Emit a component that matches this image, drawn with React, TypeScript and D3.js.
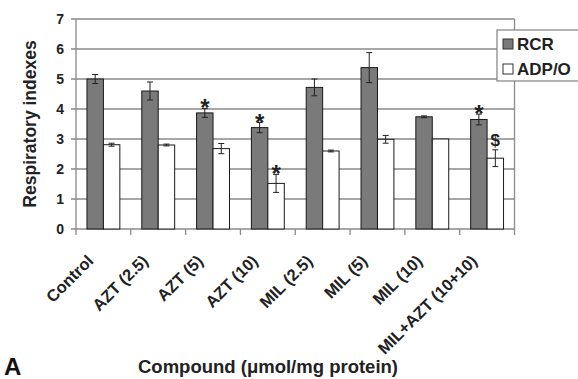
import { useEffect, useRef } from 'react';
import * as React from 'react';
import * as d3 from 'd3';

const categories = ['Control', 'AZT (2.5)', 'AZT (5)', 'AZT (10)', 'MIL (2.5)', 'MIL (5)', 'MIL (10)', 'MIL+AZT (10+10)'];
const series = ['RCR', 'ADP/O'];
const rcr = [5.0, 4.6, 3.87, 3.38, 4.72, 5.38, 3.74, 3.65];
const rcrErr = [0.15, 0.3, 0.15, 0.17, 0.28, 0.5, 0.03, 0.18];
const adpo = [2.81, 2.8, 2.68, 1.52, 2.6, 2.99, 3.0, 2.36];
const adpoErr = [0.05, 0.03, 0.17, 0.3, 0.03, 0.13, 0, 0.28];
// significance marks: [category index, series index, symbol]
const marks: [number, number, string][] = [[2, 0, '*'], [3, 0, '*'], [3, 1, '*'], [7, 0, '*'], [7, 1, '$']];
const yTicks = [0, 1, 2, 3, 4, 5, 6, 7];

const FONT = '"Liberation Sans", Arial, sans-serif';

const App: React.FC = () => {
    const ref = useRef<SVGSVGElement>(null);

    useEffect(() => {
        const svg = d3.select(ref.current);
        svg.selectAll('*').remove();

        const left = 76, right = 514.5, top = 19, bottom = 229;

        const x = d3.scaleBand<string>().domain(categories).range([left, right])
            .paddingInner(0.4).paddingOuter(0.2);
        const xs = d3.scaleBand<string>().domain(series).range([0, x.bandwidth()]);
        const y = d3.scaleLinear().domain([0, 7]).range([bottom, top]);

        const values = [rcr, adpo];
        const errs = [rcrErr, adpoErr];
        const fills = ['#7a7a7a', '#ffffff'];

        // Gridlines
        svg.append('g')
            .selectAll('line')
            .data(yTicks)
            .enter()
            .append('line')
            .attr('x1', left - 5)
            .attr('x2', right)
            .attr('y1', d => y(d))
            .attr('y2', d => y(d))
            .attr('stroke', '#8a8a8a')
            .attr('stroke-width', 1.3);

        // plot frame (left, right)
        svg.append('line').attr('x1', left).attr('x2', left).attr('y1', top).attr('y2', bottom + 1)
            .attr('stroke', '#8a8a8a').attr('stroke-width', 1.3);
        svg.append('line').attr('x1', right).attr('x2', right).attr('y1', top).attr('y2', bottom + 6)
            .attr('stroke', '#8a8a8a').attr('stroke-width', 1.3);

        // x tick marks at category boundaries
        const bounds = categories.map((_c, i) => left + i * x.step());
        svg.append('g')
            .selectAll('line')
            .data(bounds)
            .enter()
            .append('line')
            .attr('x1', d => d)
            .attr('x2', d => d)
            .attr('y1', bottom)
            .attr('y2', bottom + 6)
            .attr('stroke', '#8a8a8a')
            .attr('stroke-width', 1.3);

        // y tick labels
        svg.append('g')
            .selectAll('text')
            .data(yTicks)
            .enter()
            .append('text')
            .text(d => d.toString())
            .attr('x', 64)
            .attr('y', d => y(d) + 5)
            .attr('text-anchor', 'end')
            .attr('font-family', FONT)
            .attr('font-weight', 'bold')
            .attr('font-size', '14px')
            .attr('fill', '#222');

        // bars
        series.forEach((s, si) => {
            const g = svg.append('g');
            g.selectAll('rect')
                .data(values[si])
                .enter()
                .append('rect')
                .attr('x', (_d, i) => x(categories[i])! + xs(s)!)
                .attr('y', d => y(d))
                .attr('width', xs.bandwidth())
                .attr('height', d => y(0) - y(d))
                .attr('fill', fills[si])
                .attr('stroke', '#1a1a1a')
                .attr('stroke-width', 1);

            // error bars
            const eg = svg.append('g');
            values[si].forEach((v, i) => {
                const e = errs[si][i];
                if (!e) return;
                const cx = x(categories[i])! + xs(s)! + xs.bandwidth() / 2;
                eg.append('line').attr('x1', cx).attr('x2', cx).attr('y1', y(v + e)).attr('y2', y(v - e))
                    .attr('stroke', '#222').attr('stroke-width', 1);
                [v + e, v - e].forEach(t => {
                    eg.append('line').attr('x1', cx - 3).attr('x2', cx + 3).attr('y1', y(t)).attr('y2', y(t))
                        .attr('stroke', '#222').attr('stroke-width', 1);
                });
            });
        });

        // significance marks
        svg.append('g')
            .selectAll('text')
            .data(marks)
            .enter()
            .append('text')
            .text(d => d[2])
            .attr('x', d => x(categories[d[0]])! + xs(series[d[1]])! + xs.bandwidth() / 2)
            .attr('y', d => {
                const errTop = y(values[d[1]][d[0]] + errs[d[1]][d[0]]);
                return d[2] === '*' ? errTop + 8 : errTop - 4;
            })
            .attr('text-anchor', 'middle')
            .attr('font-family', FONT)
            .attr('font-weight', 'bold')
            .attr('font-size', d => (d[2] === '*' ? '24px' : '17px'))
            .attr('fill', '#222');

        // x labels
        svg.append('g')
            .selectAll('text')
            .data(categories)
            .enter()
            .append('text')
            .text(d => d)
            .attr('transform', d => `translate(${x(d)! + x.bandwidth() / 2 - 9},${bottom + 33}) rotate(-45)`)
            .attr('text-anchor', 'end')
            .attr('font-family', FONT)
            .attr('font-weight', 'bold')
            .attr('font-size', '16.5px')
            .attr('fill', '#222');

        // axis titles
        svg.append('text')
            .text('Respiratory indexes')
            .attr('transform', `translate(36,${(top + bottom) / 2}) rotate(-90)`)
            .attr('text-anchor', 'middle')
            .attr('font-family', FONT)
            .attr('font-weight', 'bold')
            .attr('font-size', '17.5px')
            .attr('fill', '#222');

        svg.append('text')
            .text('Compound (\u03bcmol/mg protein)')
            .attr('x', 268)
            .attr('y', 373)
            .attr('text-anchor', 'middle')
            .attr('font-family', FONT)
            .attr('font-weight', 'bold')
            .attr('font-size', '18.5px')
            .attr('fill', '#222');

        svg.append('text')
            .text('A')
            .attr('x', 4)
            .attr('y', 375)
            .attr('font-family', FONT)
            .attr('font-weight', 'bold')
            .attr('font-size', '24px')
            .attr('fill', '#111');

        // legend
        const lg = svg.append('g').attr('transform', 'translate(497,30)');
        lg.append('rect').attr('width', 82).attr('height', 51).attr('fill', '#fff')
            .attr('stroke', '#8a8a8a').attr('stroke-width', 1.3);
        series.forEach((s, si) => {
            lg.append('rect')
                .attr('x', 6)
                .attr('y', 9 + si * 25)
                .attr('width', 10)
                .attr('height', 10)
                .attr('fill', fills[si])
                .attr('stroke', '#333')
                .attr('stroke-width', 1);
            lg.append('text')
                .text(s)
                .attr('x', 20)
                .attr('y', 20 + si * 25)
                .attr('font-family', FONT)
                .attr('font-weight', 'bold')
                .attr('font-size', '17px')
                .attr('fill', '#222');
        });
    }, []);

    return <svg ref={ref} width={578} height={379} style={{ position: 'absolute', left: 0, top: 0, background: '#fff' }} />;
};

export default App;
